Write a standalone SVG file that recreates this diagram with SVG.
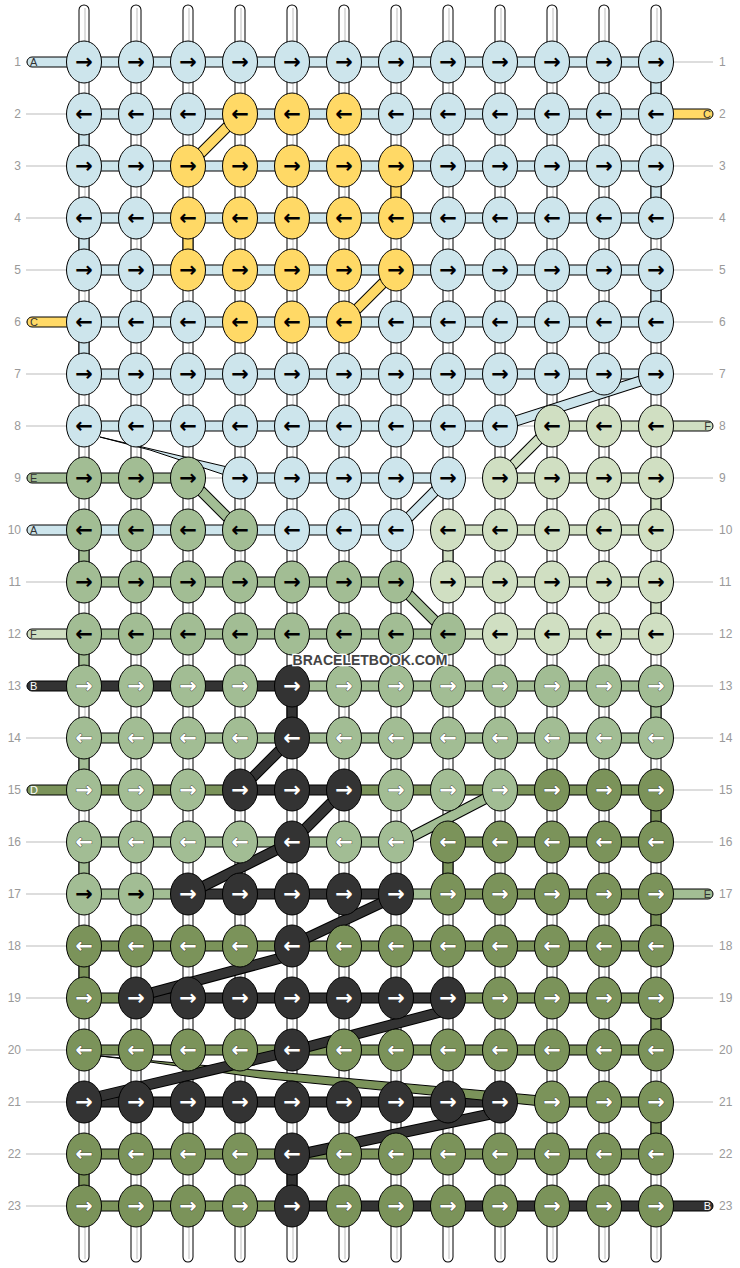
<svg xmlns="http://www.w3.org/2000/svg" width="740" height="1268" viewBox="0 0 740 1268">
<style>
.gl{stroke:#bbb;stroke-width:1;fill:none}
.vo{stroke:#000;stroke-width:11;stroke-linecap:round;fill:none}
.vi{stroke:#fff;stroke-width:9;stroke-linecap:round;fill:none}
.vg{stroke:#d4d4d4;stroke-width:1.5;fill:none}
rect,polygon{stroke:#000;stroke-width:1}
.L{fill:#cde5ec}.Y{fill:#ffd966}.M{fill:#a2bd94}.P{fill:#d0dfc2}.O{fill:#7b935a}.K{fill:#333}
.do{stroke:#000;stroke-width:11;fill:none}
.sL{stroke:#cde5ec;stroke-width:9}.sY{stroke:#ffd966;stroke-width:9}.sM{stroke:#a2bd94;stroke-width:9}.sP{stroke:#d0dfc2;stroke-width:9}.sO{stroke:#7b935a;stroke-width:9}.sK{stroke:#333;stroke-width:9}
ellipse{stroke:#000;stroke-width:1}
.b,.w{font-family:"DejaVu Sans",sans-serif;font-weight:bold;font-size:21px;text-anchor:middle}
.b{fill:#000}.w{fill:#fff;stroke:#222;stroke-width:0.7;paint-order:stroke}
.nl,.nr{font-family:"Liberation Sans",Arial,sans-serif;font-size:12px;fill:#999}
.nl{text-anchor:end}
.tl,.tr{font-family:"Liberation Sans",Arial,sans-serif;font-size:11px;fill:#333}
.tr{text-anchor:end}
.tw{fill:#fff}
.wm{font-family:"Liberation Sans",Arial,sans-serif;font-weight:bold;font-size:14px;fill:#444;stroke:#fff;stroke-width:2.5;paint-order:stroke;text-anchor:middle}
</style>
<g id="guides">
<path class="gl" d="M26 62H713M26 114H713M26 166H713M26 218H713M26 270H713M26 322H713M26 374H713M26 426H713M26 478H713M26 530H713M26 582H713M26 634H713M26 686H713M26 738H713M26 790H713M26 842H713M26 894H713M26 946H713M26 998H713M26 1050H713M26 1102H713M26 1154H713M26 1206H713"/>
</g>
<g id="row-numbers">
<text class="nl" x="21" y="66">1</text><text class="nr" x="719" y="66">1</text>
<text class="nl" x="21" y="118">2</text><text class="nr" x="719" y="118">2</text>
<text class="nl" x="21" y="170">3</text><text class="nr" x="719" y="170">3</text>
<text class="nl" x="21" y="222">4</text><text class="nr" x="719" y="222">4</text>
<text class="nl" x="21" y="274">5</text><text class="nr" x="719" y="274">5</text>
<text class="nl" x="21" y="326">6</text><text class="nr" x="719" y="326">6</text>
<text class="nl" x="21" y="378">7</text><text class="nr" x="719" y="378">7</text>
<text class="nl" x="21" y="430">8</text><text class="nr" x="719" y="430">8</text>
<text class="nl" x="21" y="482">9</text><text class="nr" x="719" y="482">9</text>
<text class="nl" x="21" y="534">10</text><text class="nr" x="719" y="534">10</text>
<text class="nl" x="21" y="586">11</text><text class="nr" x="719" y="586">11</text>
<text class="nl" x="21" y="638">12</text><text class="nr" x="719" y="638">12</text>
<text class="nl" x="21" y="690">13</text><text class="nr" x="719" y="690">13</text>
<text class="nl" x="21" y="742">14</text><text class="nr" x="719" y="742">14</text>
<text class="nl" x="21" y="794">15</text><text class="nr" x="719" y="794">15</text>
<text class="nl" x="21" y="846">16</text><text class="nr" x="719" y="846">16</text>
<text class="nl" x="21" y="898">17</text><text class="nr" x="719" y="898">17</text>
<text class="nl" x="21" y="950">18</text><text class="nr" x="719" y="950">18</text>
<text class="nl" x="21" y="1002">19</text><text class="nr" x="719" y="1002">19</text>
<text class="nl" x="21" y="1054">20</text><text class="nr" x="719" y="1054">20</text>
<text class="nl" x="21" y="1106">21</text><text class="nr" x="719" y="1106">21</text>
<text class="nl" x="21" y="1158">22</text><text class="nr" x="719" y="1158">22</text>
<text class="nl" x="21" y="1210">23</text><text class="nr" x="719" y="1210">23</text>
</g>
<g id="connectors">
<path class="vo" d="M84 10V1257M136 10V1257M188 10V1257M240 10V1257M292 10V1257M344 10V1257M396 10V1257M448 10V1257M500 10V1257M552 10V1257M604 10V1257M656 10V1257"/>
<path class="vi" d="M84 10V1257M136 10V1257M188 10V1257M240 10V1257M292 10V1257M344 10V1257M396 10V1257M448 10V1257M500 10V1257M552 10V1257M604 10V1257M656 10V1257"/>
<path class="vg" d="M85 8V1259M137 8V1259M189 8V1259M241 8V1259M293 8V1259M345 8V1259M397 8V1259M449 8V1259M501 8V1259M553 8V1259M605 8V1259M657 8V1259"/>
<rect class="L" x="651" y="62" width="10" height="52"/>
<rect class="L" x="79" y="114" width="10" height="52"/>
<rect class="L" x="651" y="166" width="10" height="52"/>
<rect class="Y" x="391" y="166" width="10" height="52"/>
<rect class="L" x="79" y="218" width="10" height="52"/>
<rect class="Y" x="183" y="218" width="10" height="52"/>
<rect class="L" x="651" y="270" width="10" height="52"/>
<rect class="L" x="79" y="322" width="10" height="52"/>
<rect class="P" x="651" y="478" width="10" height="52"/>
<rect class="M" x="79" y="530" width="10" height="52"/>
<rect class="P" x="443" y="530" width="10" height="52"/>
<rect class="P" x="651" y="582" width="10" height="52"/>
<rect class="M" x="79" y="634" width="10" height="52"/>
<rect class="K" x="287" y="686" width="10" height="52"/>
<rect class="M" x="651" y="686" width="10" height="52"/>
<rect class="M" x="79" y="738" width="10" height="52"/>
<rect class="O" x="651" y="790" width="10" height="52"/>
<rect class="M" x="79" y="842" width="10" height="52"/>
<rect class="O" x="443" y="842" width="10" height="52"/>
<rect class="O" x="651" y="894" width="10" height="52"/>
<rect class="O" x="79" y="946" width="10" height="52"/>
<rect class="O" x="651" y="998" width="10" height="52"/>
<rect class="O" x="651" y="1102" width="10" height="52"/>
<rect class="O" x="79" y="1154" width="10" height="52"/>
<rect class="K" x="287" y="1154" width="10" height="52"/>
<rect class="L" x="84" y="57" width="572" height="10"/>
<rect class="L" x="84" y="109" width="572" height="10"/>
<rect class="L" x="84" y="161" width="572" height="10"/>
<rect class="L" x="84" y="213" width="572" height="10"/>
<rect class="L" x="84" y="265" width="572" height="10"/>
<rect class="L" x="84" y="317" width="572" height="10"/>
<rect class="L" x="84" y="369" width="572" height="10"/>
<rect class="L" x="84" y="421" width="416" height="10"/><rect class="P" x="552" y="421" width="104" height="10"/>
<rect class="M" x="84" y="473" width="104" height="10"/><rect class="L" x="240" y="473" width="208" height="10"/><rect class="P" x="500" y="473" width="156" height="10"/>
<rect class="L" x="84" y="525" width="312" height="10"/><rect class="P" x="448" y="525" width="208" height="10"/>
<rect class="M" x="84" y="577" width="312" height="10"/><rect class="P" x="448" y="577" width="208" height="10"/>
<rect class="M" x="84" y="629" width="364" height="10"/><rect class="P" x="448" y="629" width="208" height="10"/>
<rect class="K" x="84" y="681" width="208" height="10"/><rect class="M" x="292" y="681" width="364" height="10"/>
<rect class="M" x="84" y="733" width="572" height="10"/>
<rect class="O" x="84" y="785" width="156" height="10"/><rect class="K" x="240" y="785" width="104" height="10"/><rect class="O" x="344" y="785" width="312" height="10"/>
<rect class="M" x="84" y="837" width="312" height="10"/><rect class="O" x="448" y="837" width="208" height="10"/>
<rect class="M" x="84" y="889" width="104" height="10"/><rect class="K" x="188" y="889" width="208" height="10"/><rect class="M" x="396" y="889" width="52" height="10"/><rect class="O" x="448" y="889" width="208" height="10"/>
<rect class="O" x="84" y="941" width="572" height="10"/>
<rect class="O" x="84" y="993" width="52" height="10"/><rect class="K" x="136" y="993" width="312" height="10"/><rect class="O" x="448" y="993" width="208" height="10"/>
<rect class="O" x="84" y="1045" width="572" height="10"/>
<rect class="K" x="84" y="1097" width="416" height="10"/><rect class="O" x="552" y="1097" width="104" height="10"/>
<rect class="O" x="84" y="1149" width="572" height="10"/>
<rect class="O" x="84" y="1201" width="208" height="10"/><rect class="K" x="292" y="1201" width="364" height="10"/>
<rect class="L" x="27" y="57" width="62" height="10" rx="5"/><text class="tl" x="30" y="66">A</text>
<rect class="Y" x="651" y="109" width="62" height="10" rx="5"/><text class="tr" x="711" y="118">C</text>
<rect class="Y" x="27" y="317" width="62" height="10" rx="5"/><text class="tl" x="30" y="326">C</text>
<rect class="P" x="651" y="421" width="62" height="10" rx="5"/><text class="tr" x="711" y="430">F</text>
<rect class="M" x="27" y="473" width="62" height="10" rx="5"/><text class="tl" x="30" y="482">E</text>
<rect class="L" x="27" y="525" width="62" height="10" rx="5"/><text class="tl" x="30" y="534">A</text>
<rect class="P" x="27" y="629" width="62" height="10" rx="5"/><text class="tl" x="30" y="638">F</text>
<rect class="K" x="27" y="681" width="62" height="10" rx="5"/><text class="tl tw" x="30" y="690">B</text>
<rect class="O" x="27" y="785" width="62" height="10" rx="5"/><text class="tl tw" x="30" y="794">D</text>
<rect class="M" x="651" y="889" width="62" height="10" rx="5"/><text class="tr" x="711" y="898">E</text>
<rect class="K" x="651" y="1201" width="62" height="10" rx="5"/><text class="tr tw" x="711" y="1210">B</text>
<line class="do" x1="240" y1="114" x2="188" y2="166"/><line class="sY" x1="240" y1="114" x2="188" y2="166"/>
<line class="do" x1="396" y1="270" x2="344" y2="322"/><line class="sY" x1="396" y1="270" x2="344" y2="322"/>
<polygon class="L" points="100,437 240,470 240,480 150,450"/>
<line class="do" x1="188" y1="478" x2="240" y2="530"/><line class="sM" x1="188" y1="478" x2="240" y2="530"/>
<line class="do" x1="396" y1="530" x2="448" y2="478"/><line class="sL" x1="396" y1="530" x2="448" y2="478"/>
<line class="do" x1="500" y1="426" x2="656" y2="376"/><line class="sL" x1="500" y1="426" x2="656" y2="376"/>
<line class="do" x1="500" y1="478" x2="552" y2="426"/><line class="sP" x1="500" y1="478" x2="552" y2="426"/>
<line class="do" x1="396" y1="582" x2="448" y2="634"/><line class="sM" x1="396" y1="582" x2="448" y2="634"/>
<line class="do" x1="292" y1="738" x2="240" y2="790"/><line class="sK" x1="292" y1="738" x2="240" y2="790"/>
<line class="do" x1="344" y1="790" x2="292" y2="842"/><line class="sK" x1="344" y1="790" x2="292" y2="842"/>
<line class="do" x1="396" y1="845" x2="500" y2="791"/><line class="sM" x1="396" y1="845" x2="500" y2="791"/>
<line class="do" x1="292" y1="842" x2="188" y2="894"/><line class="sK" x1="292" y1="842" x2="188" y2="894"/>
<line class="do" x1="396" y1="896" x2="292" y2="945"/><line class="sK" x1="396" y1="896" x2="292" y2="945"/>
<line class="do" x1="292" y1="955" x2="136" y2="997"/><line class="sK" x1="292" y1="955" x2="136" y2="997"/>
<polygon class="O" points="100,1056 552,1097 552,1107 260,1078 150,1062"/>
<line class="do" x1="448" y1="1010" x2="292" y2="1051"/><line class="sK" x1="448" y1="1010" x2="292" y2="1051"/>
<line class="do" x1="292" y1="1051" x2="84" y2="1100"/><line class="sK" x1="292" y1="1051" x2="84" y2="1100"/>
<line class="do" x1="292" y1="1156" x2="500" y2="1112"/><line class="sK" x1="292" y1="1156" x2="500" y2="1112"/>
</g>
<g id="knots">
<g id="n1-1" transform="translate(84 62)"><ellipse rx="17.5" ry="21" class="L"/><text y="6.5" class="b">→</text></g>
<g id="n1-2" transform="translate(136 62)"><ellipse rx="17.5" ry="21" class="L"/><text y="6.5" class="b">→</text></g>
<g id="n1-3" transform="translate(188 62)"><ellipse rx="17.5" ry="21" class="L"/><text y="6.5" class="b">→</text></g>
<g id="n1-4" transform="translate(240 62)"><ellipse rx="17.5" ry="21" class="L"/><text y="6.5" class="b">→</text></g>
<g id="n1-5" transform="translate(292 62)"><ellipse rx="17.5" ry="21" class="L"/><text y="6.5" class="b">→</text></g>
<g id="n1-6" transform="translate(344 62)"><ellipse rx="17.5" ry="21" class="L"/><text y="6.5" class="b">→</text></g>
<g id="n1-7" transform="translate(396 62)"><ellipse rx="17.5" ry="21" class="L"/><text y="6.5" class="b">→</text></g>
<g id="n1-8" transform="translate(448 62)"><ellipse rx="17.5" ry="21" class="L"/><text y="6.5" class="b">→</text></g>
<g id="n1-9" transform="translate(500 62)"><ellipse rx="17.5" ry="21" class="L"/><text y="6.5" class="b">→</text></g>
<g id="n1-10" transform="translate(552 62)"><ellipse rx="17.5" ry="21" class="L"/><text y="6.5" class="b">→</text></g>
<g id="n1-11" transform="translate(604 62)"><ellipse rx="17.5" ry="21" class="L"/><text y="6.5" class="b">→</text></g>
<g id="n1-12" transform="translate(656 62)"><ellipse rx="17.5" ry="21" class="L"/><text y="6.5" class="b">→</text></g>
<g id="n2-1" transform="translate(84 114)"><ellipse rx="17.5" ry="21" class="L"/><text y="6.5" class="b">←</text></g>
<g id="n2-2" transform="translate(136 114)"><ellipse rx="17.5" ry="21" class="L"/><text y="6.5" class="b">←</text></g>
<g id="n2-3" transform="translate(188 114)"><ellipse rx="17.5" ry="21" class="L"/><text y="6.5" class="b">←</text></g>
<g id="n2-4" transform="translate(240 114)"><ellipse rx="17.5" ry="21" class="Y"/><text y="6.5" class="b">←</text></g>
<g id="n2-5" transform="translate(292 114)"><ellipse rx="17.5" ry="21" class="Y"/><text y="6.5" class="b">←</text></g>
<g id="n2-6" transform="translate(344 114)"><ellipse rx="17.5" ry="21" class="Y"/><text y="6.5" class="b">←</text></g>
<g id="n2-7" transform="translate(396 114)"><ellipse rx="17.5" ry="21" class="L"/><text y="6.5" class="b">←</text></g>
<g id="n2-8" transform="translate(448 114)"><ellipse rx="17.5" ry="21" class="L"/><text y="6.5" class="b">←</text></g>
<g id="n2-9" transform="translate(500 114)"><ellipse rx="17.5" ry="21" class="L"/><text y="6.5" class="b">←</text></g>
<g id="n2-10" transform="translate(552 114)"><ellipse rx="17.5" ry="21" class="L"/><text y="6.5" class="b">←</text></g>
<g id="n2-11" transform="translate(604 114)"><ellipse rx="17.5" ry="21" class="L"/><text y="6.5" class="b">←</text></g>
<g id="n2-12" transform="translate(656 114)"><ellipse rx="17.5" ry="21" class="L"/><text y="6.5" class="b">←</text></g>
<g id="n3-1" transform="translate(84 166)"><ellipse rx="17.5" ry="21" class="L"/><text y="6.5" class="b">→</text></g>
<g id="n3-2" transform="translate(136 166)"><ellipse rx="17.5" ry="21" class="L"/><text y="6.5" class="b">→</text></g>
<g id="n3-3" transform="translate(188 166)"><ellipse rx="17.5" ry="21" class="Y"/><text y="6.5" class="b">→</text></g>
<g id="n3-4" transform="translate(240 166)"><ellipse rx="17.5" ry="21" class="Y"/><text y="6.5" class="b">→</text></g>
<g id="n3-5" transform="translate(292 166)"><ellipse rx="17.5" ry="21" class="Y"/><text y="6.5" class="b">→</text></g>
<g id="n3-6" transform="translate(344 166)"><ellipse rx="17.5" ry="21" class="Y"/><text y="6.5" class="b">→</text></g>
<g id="n3-7" transform="translate(396 166)"><ellipse rx="17.5" ry="21" class="Y"/><text y="6.5" class="b">→</text></g>
<g id="n3-8" transform="translate(448 166)"><ellipse rx="17.5" ry="21" class="L"/><text y="6.5" class="b">→</text></g>
<g id="n3-9" transform="translate(500 166)"><ellipse rx="17.5" ry="21" class="L"/><text y="6.5" class="b">→</text></g>
<g id="n3-10" transform="translate(552 166)"><ellipse rx="17.5" ry="21" class="L"/><text y="6.5" class="b">→</text></g>
<g id="n3-11" transform="translate(604 166)"><ellipse rx="17.5" ry="21" class="L"/><text y="6.5" class="b">→</text></g>
<g id="n3-12" transform="translate(656 166)"><ellipse rx="17.5" ry="21" class="L"/><text y="6.5" class="b">→</text></g>
<g id="n4-1" transform="translate(84 218)"><ellipse rx="17.5" ry="21" class="L"/><text y="6.5" class="b">←</text></g>
<g id="n4-2" transform="translate(136 218)"><ellipse rx="17.5" ry="21" class="L"/><text y="6.5" class="b">←</text></g>
<g id="n4-3" transform="translate(188 218)"><ellipse rx="17.5" ry="21" class="Y"/><text y="6.5" class="b">←</text></g>
<g id="n4-4" transform="translate(240 218)"><ellipse rx="17.5" ry="21" class="Y"/><text y="6.5" class="b">←</text></g>
<g id="n4-5" transform="translate(292 218)"><ellipse rx="17.5" ry="21" class="Y"/><text y="6.5" class="b">←</text></g>
<g id="n4-6" transform="translate(344 218)"><ellipse rx="17.5" ry="21" class="Y"/><text y="6.5" class="b">←</text></g>
<g id="n4-7" transform="translate(396 218)"><ellipse rx="17.5" ry="21" class="Y"/><text y="6.5" class="b">←</text></g>
<g id="n4-8" transform="translate(448 218)"><ellipse rx="17.5" ry="21" class="L"/><text y="6.5" class="b">←</text></g>
<g id="n4-9" transform="translate(500 218)"><ellipse rx="17.5" ry="21" class="L"/><text y="6.5" class="b">←</text></g>
<g id="n4-10" transform="translate(552 218)"><ellipse rx="17.5" ry="21" class="L"/><text y="6.5" class="b">←</text></g>
<g id="n4-11" transform="translate(604 218)"><ellipse rx="17.5" ry="21" class="L"/><text y="6.5" class="b">←</text></g>
<g id="n4-12" transform="translate(656 218)"><ellipse rx="17.5" ry="21" class="L"/><text y="6.5" class="b">←</text></g>
<g id="n5-1" transform="translate(84 270)"><ellipse rx="17.5" ry="21" class="L"/><text y="6.5" class="b">→</text></g>
<g id="n5-2" transform="translate(136 270)"><ellipse rx="17.5" ry="21" class="L"/><text y="6.5" class="b">→</text></g>
<g id="n5-3" transform="translate(188 270)"><ellipse rx="17.5" ry="21" class="Y"/><text y="6.5" class="b">→</text></g>
<g id="n5-4" transform="translate(240 270)"><ellipse rx="17.5" ry="21" class="Y"/><text y="6.5" class="b">→</text></g>
<g id="n5-5" transform="translate(292 270)"><ellipse rx="17.5" ry="21" class="Y"/><text y="6.5" class="b">→</text></g>
<g id="n5-6" transform="translate(344 270)"><ellipse rx="17.5" ry="21" class="Y"/><text y="6.5" class="b">→</text></g>
<g id="n5-7" transform="translate(396 270)"><ellipse rx="17.5" ry="21" class="Y"/><text y="6.5" class="b">→</text></g>
<g id="n5-8" transform="translate(448 270)"><ellipse rx="17.5" ry="21" class="L"/><text y="6.5" class="b">→</text></g>
<g id="n5-9" transform="translate(500 270)"><ellipse rx="17.5" ry="21" class="L"/><text y="6.5" class="b">→</text></g>
<g id="n5-10" transform="translate(552 270)"><ellipse rx="17.5" ry="21" class="L"/><text y="6.5" class="b">→</text></g>
<g id="n5-11" transform="translate(604 270)"><ellipse rx="17.5" ry="21" class="L"/><text y="6.5" class="b">→</text></g>
<g id="n5-12" transform="translate(656 270)"><ellipse rx="17.5" ry="21" class="L"/><text y="6.5" class="b">→</text></g>
<g id="n6-1" transform="translate(84 322)"><ellipse rx="17.5" ry="21" class="L"/><text y="6.5" class="b">←</text></g>
<g id="n6-2" transform="translate(136 322)"><ellipse rx="17.5" ry="21" class="L"/><text y="6.5" class="b">←</text></g>
<g id="n6-3" transform="translate(188 322)"><ellipse rx="17.5" ry="21" class="L"/><text y="6.5" class="b">←</text></g>
<g id="n6-4" transform="translate(240 322)"><ellipse rx="17.5" ry="21" class="Y"/><text y="6.5" class="b">←</text></g>
<g id="n6-5" transform="translate(292 322)"><ellipse rx="17.5" ry="21" class="Y"/><text y="6.5" class="b">←</text></g>
<g id="n6-6" transform="translate(344 322)"><ellipse rx="17.5" ry="21" class="Y"/><text y="6.5" class="b">←</text></g>
<g id="n6-7" transform="translate(396 322)"><ellipse rx="17.5" ry="21" class="L"/><text y="6.5" class="b">←</text></g>
<g id="n6-8" transform="translate(448 322)"><ellipse rx="17.5" ry="21" class="L"/><text y="6.5" class="b">←</text></g>
<g id="n6-9" transform="translate(500 322)"><ellipse rx="17.5" ry="21" class="L"/><text y="6.5" class="b">←</text></g>
<g id="n6-10" transform="translate(552 322)"><ellipse rx="17.5" ry="21" class="L"/><text y="6.5" class="b">←</text></g>
<g id="n6-11" transform="translate(604 322)"><ellipse rx="17.5" ry="21" class="L"/><text y="6.5" class="b">←</text></g>
<g id="n6-12" transform="translate(656 322)"><ellipse rx="17.5" ry="21" class="L"/><text y="6.5" class="b">←</text></g>
<g id="n7-1" transform="translate(84 374)"><ellipse rx="17.5" ry="21" class="L"/><text y="6.5" class="b">→</text></g>
<g id="n7-2" transform="translate(136 374)"><ellipse rx="17.5" ry="21" class="L"/><text y="6.5" class="b">→</text></g>
<g id="n7-3" transform="translate(188 374)"><ellipse rx="17.5" ry="21" class="L"/><text y="6.5" class="b">→</text></g>
<g id="n7-4" transform="translate(240 374)"><ellipse rx="17.5" ry="21" class="L"/><text y="6.5" class="b">→</text></g>
<g id="n7-5" transform="translate(292 374)"><ellipse rx="17.5" ry="21" class="L"/><text y="6.5" class="b">→</text></g>
<g id="n7-6" transform="translate(344 374)"><ellipse rx="17.5" ry="21" class="L"/><text y="6.5" class="b">→</text></g>
<g id="n7-7" transform="translate(396 374)"><ellipse rx="17.5" ry="21" class="L"/><text y="6.5" class="b">→</text></g>
<g id="n7-8" transform="translate(448 374)"><ellipse rx="17.5" ry="21" class="L"/><text y="6.5" class="b">→</text></g>
<g id="n7-9" transform="translate(500 374)"><ellipse rx="17.5" ry="21" class="L"/><text y="6.5" class="b">→</text></g>
<g id="n7-10" transform="translate(552 374)"><ellipse rx="17.5" ry="21" class="L"/><text y="6.5" class="b">→</text></g>
<g id="n7-11" transform="translate(604 374)"><ellipse rx="17.5" ry="21" class="L"/><text y="6.5" class="b">→</text></g>
<g id="n7-12" transform="translate(656 374)"><ellipse rx="17.5" ry="21" class="L"/><text y="6.5" class="b">→</text></g>
<g id="n8-1" transform="translate(84 426)"><ellipse rx="17.5" ry="21" class="L"/><text y="6.5" class="b">←</text></g>
<g id="n8-2" transform="translate(136 426)"><ellipse rx="17.5" ry="21" class="L"/><text y="6.5" class="b">←</text></g>
<g id="n8-3" transform="translate(188 426)"><ellipse rx="17.5" ry="21" class="L"/><text y="6.5" class="b">←</text></g>
<g id="n8-4" transform="translate(240 426)"><ellipse rx="17.5" ry="21" class="L"/><text y="6.5" class="b">←</text></g>
<g id="n8-5" transform="translate(292 426)"><ellipse rx="17.5" ry="21" class="L"/><text y="6.5" class="b">←</text></g>
<g id="n8-6" transform="translate(344 426)"><ellipse rx="17.5" ry="21" class="L"/><text y="6.5" class="b">←</text></g>
<g id="n8-7" transform="translate(396 426)"><ellipse rx="17.5" ry="21" class="L"/><text y="6.5" class="b">←</text></g>
<g id="n8-8" transform="translate(448 426)"><ellipse rx="17.5" ry="21" class="L"/><text y="6.5" class="b">←</text></g>
<g id="n8-9" transform="translate(500 426)"><ellipse rx="17.5" ry="21" class="L"/><text y="6.5" class="b">←</text></g>
<g id="n8-10" transform="translate(552 426)"><ellipse rx="17.5" ry="21" class="P"/><text y="6.5" class="b">←</text></g>
<g id="n8-11" transform="translate(604 426)"><ellipse rx="17.5" ry="21" class="P"/><text y="6.5" class="b">←</text></g>
<g id="n8-12" transform="translate(656 426)"><ellipse rx="17.5" ry="21" class="P"/><text y="6.5" class="b">←</text></g>
<g id="n9-1" transform="translate(84 478)"><ellipse rx="17.5" ry="21" class="M"/><text y="6.5" class="b">→</text></g>
<g id="n9-2" transform="translate(136 478)"><ellipse rx="17.5" ry="21" class="M"/><text y="6.5" class="b">→</text></g>
<g id="n9-3" transform="translate(188 478)"><ellipse rx="17.5" ry="21" class="M"/><text y="6.5" class="b">→</text></g>
<g id="n9-4" transform="translate(240 478)"><ellipse rx="17.5" ry="21" class="L"/><text y="6.5" class="b">→</text></g>
<g id="n9-5" transform="translate(292 478)"><ellipse rx="17.5" ry="21" class="L"/><text y="6.5" class="b">→</text></g>
<g id="n9-6" transform="translate(344 478)"><ellipse rx="17.5" ry="21" class="L"/><text y="6.5" class="b">→</text></g>
<g id="n9-7" transform="translate(396 478)"><ellipse rx="17.5" ry="21" class="L"/><text y="6.5" class="b">→</text></g>
<g id="n9-8" transform="translate(448 478)"><ellipse rx="17.5" ry="21" class="L"/><text y="6.5" class="b">→</text></g>
<g id="n9-9" transform="translate(500 478)"><ellipse rx="17.5" ry="21" class="P"/><text y="6.5" class="b">→</text></g>
<g id="n9-10" transform="translate(552 478)"><ellipse rx="17.5" ry="21" class="P"/><text y="6.5" class="b">→</text></g>
<g id="n9-11" transform="translate(604 478)"><ellipse rx="17.5" ry="21" class="P"/><text y="6.5" class="b">→</text></g>
<g id="n9-12" transform="translate(656 478)"><ellipse rx="17.5" ry="21" class="P"/><text y="6.5" class="b">→</text></g>
<g id="n10-1" transform="translate(84 530)"><ellipse rx="17.5" ry="21" class="M"/><text y="6.5" class="b">←</text></g>
<g id="n10-2" transform="translate(136 530)"><ellipse rx="17.5" ry="21" class="M"/><text y="6.5" class="b">←</text></g>
<g id="n10-3" transform="translate(188 530)"><ellipse rx="17.5" ry="21" class="M"/><text y="6.5" class="b">←</text></g>
<g id="n10-4" transform="translate(240 530)"><ellipse rx="17.5" ry="21" class="M"/><text y="6.5" class="b">←</text></g>
<g id="n10-5" transform="translate(292 530)"><ellipse rx="17.5" ry="21" class="L"/><text y="6.5" class="b">←</text></g>
<g id="n10-6" transform="translate(344 530)"><ellipse rx="17.5" ry="21" class="L"/><text y="6.5" class="b">←</text></g>
<g id="n10-7" transform="translate(396 530)"><ellipse rx="17.5" ry="21" class="L"/><text y="6.5" class="b">←</text></g>
<g id="n10-8" transform="translate(448 530)"><ellipse rx="17.5" ry="21" class="P"/><text y="6.5" class="b">←</text></g>
<g id="n10-9" transform="translate(500 530)"><ellipse rx="17.5" ry="21" class="P"/><text y="6.5" class="b">←</text></g>
<g id="n10-10" transform="translate(552 530)"><ellipse rx="17.5" ry="21" class="P"/><text y="6.5" class="b">←</text></g>
<g id="n10-11" transform="translate(604 530)"><ellipse rx="17.5" ry="21" class="P"/><text y="6.5" class="b">←</text></g>
<g id="n10-12" transform="translate(656 530)"><ellipse rx="17.5" ry="21" class="P"/><text y="6.5" class="b">←</text></g>
<g id="n11-1" transform="translate(84 582)"><ellipse rx="17.5" ry="21" class="M"/><text y="6.5" class="b">→</text></g>
<g id="n11-2" transform="translate(136 582)"><ellipse rx="17.5" ry="21" class="M"/><text y="6.5" class="b">→</text></g>
<g id="n11-3" transform="translate(188 582)"><ellipse rx="17.5" ry="21" class="M"/><text y="6.5" class="b">→</text></g>
<g id="n11-4" transform="translate(240 582)"><ellipse rx="17.5" ry="21" class="M"/><text y="6.5" class="b">→</text></g>
<g id="n11-5" transform="translate(292 582)"><ellipse rx="17.5" ry="21" class="M"/><text y="6.5" class="b">→</text></g>
<g id="n11-6" transform="translate(344 582)"><ellipse rx="17.5" ry="21" class="M"/><text y="6.5" class="b">→</text></g>
<g id="n11-7" transform="translate(396 582)"><ellipse rx="17.5" ry="21" class="M"/><text y="6.5" class="b">→</text></g>
<g id="n11-8" transform="translate(448 582)"><ellipse rx="17.5" ry="21" class="P"/><text y="6.5" class="b">→</text></g>
<g id="n11-9" transform="translate(500 582)"><ellipse rx="17.5" ry="21" class="P"/><text y="6.5" class="b">→</text></g>
<g id="n11-10" transform="translate(552 582)"><ellipse rx="17.5" ry="21" class="P"/><text y="6.5" class="b">→</text></g>
<g id="n11-11" transform="translate(604 582)"><ellipse rx="17.5" ry="21" class="P"/><text y="6.5" class="b">→</text></g>
<g id="n11-12" transform="translate(656 582)"><ellipse rx="17.5" ry="21" class="P"/><text y="6.5" class="b">→</text></g>
<g id="n12-1" transform="translate(84 634)"><ellipse rx="17.5" ry="21" class="M"/><text y="6.5" class="b">←</text></g>
<g id="n12-2" transform="translate(136 634)"><ellipse rx="17.5" ry="21" class="M"/><text y="6.5" class="b">←</text></g>
<g id="n12-3" transform="translate(188 634)"><ellipse rx="17.5" ry="21" class="M"/><text y="6.5" class="b">←</text></g>
<g id="n12-4" transform="translate(240 634)"><ellipse rx="17.5" ry="21" class="M"/><text y="6.5" class="b">←</text></g>
<g id="n12-5" transform="translate(292 634)"><ellipse rx="17.5" ry="21" class="M"/><text y="6.5" class="b">←</text></g>
<g id="n12-6" transform="translate(344 634)"><ellipse rx="17.5" ry="21" class="M"/><text y="6.5" class="b">←</text></g>
<g id="n12-7" transform="translate(396 634)"><ellipse rx="17.5" ry="21" class="M"/><text y="6.5" class="b">←</text></g>
<g id="n12-8" transform="translate(448 634)"><ellipse rx="17.5" ry="21" class="M"/><text y="6.5" class="b">←</text></g>
<g id="n12-9" transform="translate(500 634)"><ellipse rx="17.5" ry="21" class="P"/><text y="6.5" class="b">←</text></g>
<g id="n12-10" transform="translate(552 634)"><ellipse rx="17.5" ry="21" class="P"/><text y="6.5" class="b">←</text></g>
<g id="n12-11" transform="translate(604 634)"><ellipse rx="17.5" ry="21" class="P"/><text y="6.5" class="b">←</text></g>
<g id="n12-12" transform="translate(656 634)"><ellipse rx="17.5" ry="21" class="P"/><text y="6.5" class="b">←</text></g>
<g id="n13-1" transform="translate(84 686)"><ellipse rx="17.5" ry="21" class="M"/><text y="6.5" class="w">→</text></g>
<g id="n13-2" transform="translate(136 686)"><ellipse rx="17.5" ry="21" class="M"/><text y="6.5" class="w">→</text></g>
<g id="n13-3" transform="translate(188 686)"><ellipse rx="17.5" ry="21" class="M"/><text y="6.5" class="w">→</text></g>
<g id="n13-4" transform="translate(240 686)"><ellipse rx="17.5" ry="21" class="M"/><text y="6.5" class="w">→</text></g>
<g id="n13-5" transform="translate(292 686)"><ellipse rx="17.5" ry="21" class="K"/><text y="6.5" class="w">→</text></g>
<g id="n13-6" transform="translate(344 686)"><ellipse rx="17.5" ry="21" class="M"/><text y="6.5" class="w">→</text></g>
<g id="n13-7" transform="translate(396 686)"><ellipse rx="17.5" ry="21" class="M"/><text y="6.5" class="w">→</text></g>
<g id="n13-8" transform="translate(448 686)"><ellipse rx="17.5" ry="21" class="M"/><text y="6.5" class="w">→</text></g>
<g id="n13-9" transform="translate(500 686)"><ellipse rx="17.5" ry="21" class="M"/><text y="6.5" class="w">→</text></g>
<g id="n13-10" transform="translate(552 686)"><ellipse rx="17.5" ry="21" class="M"/><text y="6.5" class="w">→</text></g>
<g id="n13-11" transform="translate(604 686)"><ellipse rx="17.5" ry="21" class="M"/><text y="6.5" class="w">→</text></g>
<g id="n13-12" transform="translate(656 686)"><ellipse rx="17.5" ry="21" class="M"/><text y="6.5" class="w">→</text></g>
<g id="n14-1" transform="translate(84 738)"><ellipse rx="17.5" ry="21" class="M"/><text y="6.5" class="w">←</text></g>
<g id="n14-2" transform="translate(136 738)"><ellipse rx="17.5" ry="21" class="M"/><text y="6.5" class="w">←</text></g>
<g id="n14-3" transform="translate(188 738)"><ellipse rx="17.5" ry="21" class="M"/><text y="6.5" class="w">←</text></g>
<g id="n14-4" transform="translate(240 738)"><ellipse rx="17.5" ry="21" class="M"/><text y="6.5" class="w">←</text></g>
<g id="n14-5" transform="translate(292 738)"><ellipse rx="17.5" ry="21" class="K"/><text y="6.5" class="w">←</text></g>
<g id="n14-6" transform="translate(344 738)"><ellipse rx="17.5" ry="21" class="M"/><text y="6.5" class="w">←</text></g>
<g id="n14-7" transform="translate(396 738)"><ellipse rx="17.5" ry="21" class="M"/><text y="6.5" class="w">←</text></g>
<g id="n14-8" transform="translate(448 738)"><ellipse rx="17.5" ry="21" class="M"/><text y="6.5" class="w">←</text></g>
<g id="n14-9" transform="translate(500 738)"><ellipse rx="17.5" ry="21" class="M"/><text y="6.5" class="w">←</text></g>
<g id="n14-10" transform="translate(552 738)"><ellipse rx="17.5" ry="21" class="M"/><text y="6.5" class="w">←</text></g>
<g id="n14-11" transform="translate(604 738)"><ellipse rx="17.5" ry="21" class="M"/><text y="6.5" class="w">←</text></g>
<g id="n14-12" transform="translate(656 738)"><ellipse rx="17.5" ry="21" class="M"/><text y="6.5" class="w">←</text></g>
<g id="n15-1" transform="translate(84 790)"><ellipse rx="17.5" ry="21" class="M"/><text y="6.5" class="w">→</text></g>
<g id="n15-2" transform="translate(136 790)"><ellipse rx="17.5" ry="21" class="M"/><text y="6.5" class="w">→</text></g>
<g id="n15-3" transform="translate(188 790)"><ellipse rx="17.5" ry="21" class="M"/><text y="6.5" class="w">→</text></g>
<g id="n15-4" transform="translate(240 790)"><ellipse rx="17.5" ry="21" class="K"/><text y="6.5" class="w">→</text></g>
<g id="n15-5" transform="translate(292 790)"><ellipse rx="17.5" ry="21" class="K"/><text y="6.5" class="w">→</text></g>
<g id="n15-6" transform="translate(344 790)"><ellipse rx="17.5" ry="21" class="K"/><text y="6.5" class="w">→</text></g>
<g id="n15-7" transform="translate(396 790)"><ellipse rx="17.5" ry="21" class="M"/><text y="6.5" class="w">→</text></g>
<g id="n15-8" transform="translate(448 790)"><ellipse rx="17.5" ry="21" class="M"/><text y="6.5" class="w">→</text></g>
<g id="n15-9" transform="translate(500 790)"><ellipse rx="17.5" ry="21" class="M"/><text y="6.5" class="w">→</text></g>
<g id="n15-10" transform="translate(552 790)"><ellipse rx="17.5" ry="21" class="O"/><text y="6.5" class="w">→</text></g>
<g id="n15-11" transform="translate(604 790)"><ellipse rx="17.5" ry="21" class="O"/><text y="6.5" class="w">→</text></g>
<g id="n15-12" transform="translate(656 790)"><ellipse rx="17.5" ry="21" class="O"/><text y="6.5" class="w">→</text></g>
<g id="n16-1" transform="translate(84 842)"><ellipse rx="17.5" ry="21" class="M"/><text y="6.5" class="w">←</text></g>
<g id="n16-2" transform="translate(136 842)"><ellipse rx="17.5" ry="21" class="M"/><text y="6.5" class="w">←</text></g>
<g id="n16-3" transform="translate(188 842)"><ellipse rx="17.5" ry="21" class="M"/><text y="6.5" class="w">←</text></g>
<g id="n16-4" transform="translate(240 842)"><ellipse rx="17.5" ry="21" class="M"/><text y="6.5" class="w">←</text></g>
<g id="n16-5" transform="translate(292 842)"><ellipse rx="17.5" ry="21" class="K"/><text y="6.5" class="w">←</text></g>
<g id="n16-6" transform="translate(344 842)"><ellipse rx="17.5" ry="21" class="M"/><text y="6.5" class="w">←</text></g>
<g id="n16-7" transform="translate(396 842)"><ellipse rx="17.5" ry="21" class="M"/><text y="6.5" class="w">←</text></g>
<g id="n16-8" transform="translate(448 842)"><ellipse rx="17.5" ry="21" class="O"/><text y="6.5" class="w">←</text></g>
<g id="n16-9" transform="translate(500 842)"><ellipse rx="17.5" ry="21" class="O"/><text y="6.5" class="w">←</text></g>
<g id="n16-10" transform="translate(552 842)"><ellipse rx="17.5" ry="21" class="O"/><text y="6.5" class="w">←</text></g>
<g id="n16-11" transform="translate(604 842)"><ellipse rx="17.5" ry="21" class="O"/><text y="6.5" class="w">←</text></g>
<g id="n16-12" transform="translate(656 842)"><ellipse rx="17.5" ry="21" class="O"/><text y="6.5" class="w">←</text></g>
<g id="n17-1" transform="translate(84 894)"><ellipse rx="17.5" ry="21" class="M"/><text y="6.5" class="b">→</text></g>
<g id="n17-2" transform="translate(136 894)"><ellipse rx="17.5" ry="21" class="M"/><text y="6.5" class="b">→</text></g>
<g id="n17-3" transform="translate(188 894)"><ellipse rx="17.5" ry="21" class="K"/><text y="6.5" class="w">→</text></g>
<g id="n17-4" transform="translate(240 894)"><ellipse rx="17.5" ry="21" class="K"/><text y="6.5" class="w">→</text></g>
<g id="n17-5" transform="translate(292 894)"><ellipse rx="17.5" ry="21" class="K"/><text y="6.5" class="w">→</text></g>
<g id="n17-6" transform="translate(344 894)"><ellipse rx="17.5" ry="21" class="K"/><text y="6.5" class="w">→</text></g>
<g id="n17-7" transform="translate(396 894)"><ellipse rx="17.5" ry="21" class="K"/><text y="6.5" class="w">→</text></g>
<g id="n17-8" transform="translate(448 894)"><ellipse rx="17.5" ry="21" class="O"/><text y="6.5" class="w">→</text></g>
<g id="n17-9" transform="translate(500 894)"><ellipse rx="17.5" ry="21" class="O"/><text y="6.5" class="w">→</text></g>
<g id="n17-10" transform="translate(552 894)"><ellipse rx="17.5" ry="21" class="O"/><text y="6.5" class="w">→</text></g>
<g id="n17-11" transform="translate(604 894)"><ellipse rx="17.5" ry="21" class="O"/><text y="6.5" class="w">→</text></g>
<g id="n17-12" transform="translate(656 894)"><ellipse rx="17.5" ry="21" class="O"/><text y="6.5" class="w">→</text></g>
<g id="n18-1" transform="translate(84 946)"><ellipse rx="17.5" ry="21" class="O"/><text y="6.5" class="w">←</text></g>
<g id="n18-2" transform="translate(136 946)"><ellipse rx="17.5" ry="21" class="O"/><text y="6.5" class="w">←</text></g>
<g id="n18-3" transform="translate(188 946)"><ellipse rx="17.5" ry="21" class="O"/><text y="6.5" class="w">←</text></g>
<g id="n18-4" transform="translate(240 946)"><ellipse rx="17.5" ry="21" class="O"/><text y="6.5" class="w">←</text></g>
<g id="n18-5" transform="translate(292 946)"><ellipse rx="17.5" ry="21" class="K"/><text y="6.5" class="w">←</text></g>
<g id="n18-6" transform="translate(344 946)"><ellipse rx="17.5" ry="21" class="O"/><text y="6.5" class="w">←</text></g>
<g id="n18-7" transform="translate(396 946)"><ellipse rx="17.5" ry="21" class="O"/><text y="6.5" class="w">←</text></g>
<g id="n18-8" transform="translate(448 946)"><ellipse rx="17.5" ry="21" class="O"/><text y="6.5" class="w">←</text></g>
<g id="n18-9" transform="translate(500 946)"><ellipse rx="17.5" ry="21" class="O"/><text y="6.5" class="w">←</text></g>
<g id="n18-10" transform="translate(552 946)"><ellipse rx="17.5" ry="21" class="O"/><text y="6.5" class="w">←</text></g>
<g id="n18-11" transform="translate(604 946)"><ellipse rx="17.5" ry="21" class="O"/><text y="6.5" class="w">←</text></g>
<g id="n18-12" transform="translate(656 946)"><ellipse rx="17.5" ry="21" class="O"/><text y="6.5" class="w">←</text></g>
<g id="n19-1" transform="translate(84 998)"><ellipse rx="17.5" ry="21" class="O"/><text y="6.5" class="w">→</text></g>
<g id="n19-2" transform="translate(136 998)"><ellipse rx="17.5" ry="21" class="K"/><text y="6.5" class="w">→</text></g>
<g id="n19-3" transform="translate(188 998)"><ellipse rx="17.5" ry="21" class="K"/><text y="6.5" class="w">→</text></g>
<g id="n19-4" transform="translate(240 998)"><ellipse rx="17.5" ry="21" class="K"/><text y="6.5" class="w">→</text></g>
<g id="n19-5" transform="translate(292 998)"><ellipse rx="17.5" ry="21" class="K"/><text y="6.5" class="w">→</text></g>
<g id="n19-6" transform="translate(344 998)"><ellipse rx="17.5" ry="21" class="K"/><text y="6.5" class="w">→</text></g>
<g id="n19-7" transform="translate(396 998)"><ellipse rx="17.5" ry="21" class="K"/><text y="6.5" class="w">→</text></g>
<g id="n19-8" transform="translate(448 998)"><ellipse rx="17.5" ry="21" class="K"/><text y="6.5" class="w">→</text></g>
<g id="n19-9" transform="translate(500 998)"><ellipse rx="17.5" ry="21" class="O"/><text y="6.5" class="w">→</text></g>
<g id="n19-10" transform="translate(552 998)"><ellipse rx="17.5" ry="21" class="O"/><text y="6.5" class="w">→</text></g>
<g id="n19-11" transform="translate(604 998)"><ellipse rx="17.5" ry="21" class="O"/><text y="6.5" class="w">→</text></g>
<g id="n19-12" transform="translate(656 998)"><ellipse rx="17.5" ry="21" class="O"/><text y="6.5" class="w">→</text></g>
<g id="n20-1" transform="translate(84 1050)"><ellipse rx="17.5" ry="21" class="O"/><text y="6.5" class="w">←</text></g>
<g id="n20-2" transform="translate(136 1050)"><ellipse rx="17.5" ry="21" class="O"/><text y="6.5" class="w">←</text></g>
<g id="n20-3" transform="translate(188 1050)"><ellipse rx="17.5" ry="21" class="O"/><text y="6.5" class="w">←</text></g>
<g id="n20-4" transform="translate(240 1050)"><ellipse rx="17.5" ry="21" class="O"/><text y="6.5" class="w">←</text></g>
<g id="n20-5" transform="translate(292 1050)"><ellipse rx="17.5" ry="21" class="K"/><text y="6.5" class="w">←</text></g>
<g id="n20-6" transform="translate(344 1050)"><ellipse rx="17.5" ry="21" class="O"/><text y="6.5" class="w">←</text></g>
<g id="n20-7" transform="translate(396 1050)"><ellipse rx="17.5" ry="21" class="O"/><text y="6.5" class="w">←</text></g>
<g id="n20-8" transform="translate(448 1050)"><ellipse rx="17.5" ry="21" class="O"/><text y="6.5" class="w">←</text></g>
<g id="n20-9" transform="translate(500 1050)"><ellipse rx="17.5" ry="21" class="O"/><text y="6.5" class="w">←</text></g>
<g id="n20-10" transform="translate(552 1050)"><ellipse rx="17.5" ry="21" class="O"/><text y="6.5" class="w">←</text></g>
<g id="n20-11" transform="translate(604 1050)"><ellipse rx="17.5" ry="21" class="O"/><text y="6.5" class="w">←</text></g>
<g id="n20-12" transform="translate(656 1050)"><ellipse rx="17.5" ry="21" class="O"/><text y="6.5" class="w">←</text></g>
<g id="n21-1" transform="translate(84 1102)"><ellipse rx="17.5" ry="21" class="K"/><text y="6.5" class="w">→</text></g>
<g id="n21-2" transform="translate(136 1102)"><ellipse rx="17.5" ry="21" class="K"/><text y="6.5" class="w">→</text></g>
<g id="n21-3" transform="translate(188 1102)"><ellipse rx="17.5" ry="21" class="K"/><text y="6.5" class="w">→</text></g>
<g id="n21-4" transform="translate(240 1102)"><ellipse rx="17.5" ry="21" class="K"/><text y="6.5" class="w">→</text></g>
<g id="n21-5" transform="translate(292 1102)"><ellipse rx="17.5" ry="21" class="K"/><text y="6.5" class="w">→</text></g>
<g id="n21-6" transform="translate(344 1102)"><ellipse rx="17.5" ry="21" class="K"/><text y="6.5" class="w">→</text></g>
<g id="n21-7" transform="translate(396 1102)"><ellipse rx="17.5" ry="21" class="K"/><text y="6.5" class="w">→</text></g>
<g id="n21-8" transform="translate(448 1102)"><ellipse rx="17.5" ry="21" class="K"/><text y="6.5" class="w">→</text></g>
<g id="n21-9" transform="translate(500 1102)"><ellipse rx="17.5" ry="21" class="K"/><text y="6.5" class="w">→</text></g>
<g id="n21-10" transform="translate(552 1102)"><ellipse rx="17.5" ry="21" class="O"/><text y="6.5" class="w">→</text></g>
<g id="n21-11" transform="translate(604 1102)"><ellipse rx="17.5" ry="21" class="O"/><text y="6.5" class="w">→</text></g>
<g id="n21-12" transform="translate(656 1102)"><ellipse rx="17.5" ry="21" class="O"/><text y="6.5" class="w">→</text></g>
<g id="n22-1" transform="translate(84 1154)"><ellipse rx="17.5" ry="21" class="O"/><text y="6.5" class="w">←</text></g>
<g id="n22-2" transform="translate(136 1154)"><ellipse rx="17.5" ry="21" class="O"/><text y="6.5" class="w">←</text></g>
<g id="n22-3" transform="translate(188 1154)"><ellipse rx="17.5" ry="21" class="O"/><text y="6.5" class="w">←</text></g>
<g id="n22-4" transform="translate(240 1154)"><ellipse rx="17.5" ry="21" class="O"/><text y="6.5" class="w">←</text></g>
<g id="n22-5" transform="translate(292 1154)"><ellipse rx="17.5" ry="21" class="K"/><text y="6.5" class="w">←</text></g>
<g id="n22-6" transform="translate(344 1154)"><ellipse rx="17.5" ry="21" class="O"/><text y="6.5" class="w">←</text></g>
<g id="n22-7" transform="translate(396 1154)"><ellipse rx="17.5" ry="21" class="O"/><text y="6.5" class="w">←</text></g>
<g id="n22-8" transform="translate(448 1154)"><ellipse rx="17.5" ry="21" class="O"/><text y="6.5" class="w">←</text></g>
<g id="n22-9" transform="translate(500 1154)"><ellipse rx="17.5" ry="21" class="O"/><text y="6.5" class="w">←</text></g>
<g id="n22-10" transform="translate(552 1154)"><ellipse rx="17.5" ry="21" class="O"/><text y="6.5" class="w">←</text></g>
<g id="n22-11" transform="translate(604 1154)"><ellipse rx="17.5" ry="21" class="O"/><text y="6.5" class="w">←</text></g>
<g id="n22-12" transform="translate(656 1154)"><ellipse rx="17.5" ry="21" class="O"/><text y="6.5" class="w">←</text></g>
<g id="n23-1" transform="translate(84 1206)"><ellipse rx="17.5" ry="21" class="O"/><text y="6.5" class="w">→</text></g>
<g id="n23-2" transform="translate(136 1206)"><ellipse rx="17.5" ry="21" class="O"/><text y="6.5" class="w">→</text></g>
<g id="n23-3" transform="translate(188 1206)"><ellipse rx="17.5" ry="21" class="O"/><text y="6.5" class="w">→</text></g>
<g id="n23-4" transform="translate(240 1206)"><ellipse rx="17.5" ry="21" class="O"/><text y="6.5" class="w">→</text></g>
<g id="n23-5" transform="translate(292 1206)"><ellipse rx="17.5" ry="21" class="K"/><text y="6.5" class="w">→</text></g>
<g id="n23-6" transform="translate(344 1206)"><ellipse rx="17.5" ry="21" class="O"/><text y="6.5" class="w">→</text></g>
<g id="n23-7" transform="translate(396 1206)"><ellipse rx="17.5" ry="21" class="O"/><text y="6.5" class="w">→</text></g>
<g id="n23-8" transform="translate(448 1206)"><ellipse rx="17.5" ry="21" class="O"/><text y="6.5" class="w">→</text></g>
<g id="n23-9" transform="translate(500 1206)"><ellipse rx="17.5" ry="21" class="O"/><text y="6.5" class="w">→</text></g>
<g id="n23-10" transform="translate(552 1206)"><ellipse rx="17.5" ry="21" class="O"/><text y="6.5" class="w">→</text></g>
<g id="n23-11" transform="translate(604 1206)"><ellipse rx="17.5" ry="21" class="O"/><text y="6.5" class="w">→</text></g>
<g id="n23-12" transform="translate(656 1206)"><ellipse rx="17.5" ry="21" class="O"/><text y="6.5" class="w">→</text></g>
</g>
<g id="watermark"><text class="wm" x="370" y="665">BRACELETBOOK.COM</text></g>
</svg>
